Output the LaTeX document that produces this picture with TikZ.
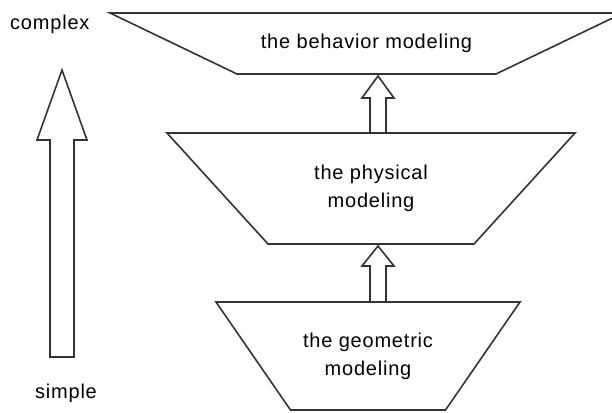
\documentclass[tikz,border=0pt]{standalone}
\usepackage{fontspec}
\setmainfont{Liberation Sans}[LetterSpace=4]
\usetikzlibrary{calc}
\tikzstyle{layer}=[inner sep=0pt,align=center,font=\fontsize{20}{28}\selectfont]
\tikzstyle{label}=[inner sep=0pt,font=\fontsize{20}{24}\selectfont]
\tikzstyle{blockline}=[draw=black!80,line width=1.6pt,line join=miter]
% name, half top, half bottom, half height
\newcommand{\layerbox}[4]{%
  \coordinate (#1-top) at ($(#1)+(0,-#4)$);
  \coordinate (#1-bot) at ($(#1)+(0,#4)$);
  \draw[blockline] ($(#1)+(-#2,-#4)$) -- ($(#1)+(#2,-#4)$) -- ($(#1)+(#3,#4)$) -- ($(#1)+(-#3,#4)$) -- cycle;}
% tail, tip, half shaft, half head, head length
\newcommand{\blockarr}[5]{%
  \path[blockline] let \p1=(#1), \p2=(#2) in
    (\x1-#3,\y1) -- (\x1-#3,\y2-#5) -- (\x1-#4,\y2-#5) -- (\x2,\y2)
    -- (\x1+#4,\y2-#5) -- (\x1+#3,\y2-#5) -- (\x1+#3,\y1) -- cycle;}

\begin{document}
\begin{tikzpicture}[x=1pt,y=-1pt]
    \useasboundingbox (0,0) rectangle (612,412);
    \clip (0,0) rectangle (612,412);
    \node[layer] (behavior) at (366.5,43.5) {the behavior modeling};
    \node[layer] (physical) at (371,188.5) {the physical\\modeling};
    \node[layer] (geometric) at (368,356) {the geometric\\modeling};
    \layerbox{behavior}{256.5}{129.5}{30.5}
    \layerbox{physical}{204}{103}{55.5}
    \layerbox{geometric}{152}{77.5}{54}

    \node[label,anchor=west] (complex) at (10,24) {complex};
    \node[label] (simple) at (66,393) {simple};

    \coordinate (ax) at (378,0);
    \coordinate (bigtail) at (62,357);
    \coordinate (bigtip) at (62,70);

    \blockarr{physical-top -| ax}{$(behavior-bot -| ax)+(0,2)$}{8}{16}{22}
    \blockarr{geometric-top -| ax}{$(physical-bot -| ax)+(0,2)$}{8}{16}{20}
    \blockarr{bigtail}{bigtip}{12}{25}{70}
\end{tikzpicture}
\end{document}
